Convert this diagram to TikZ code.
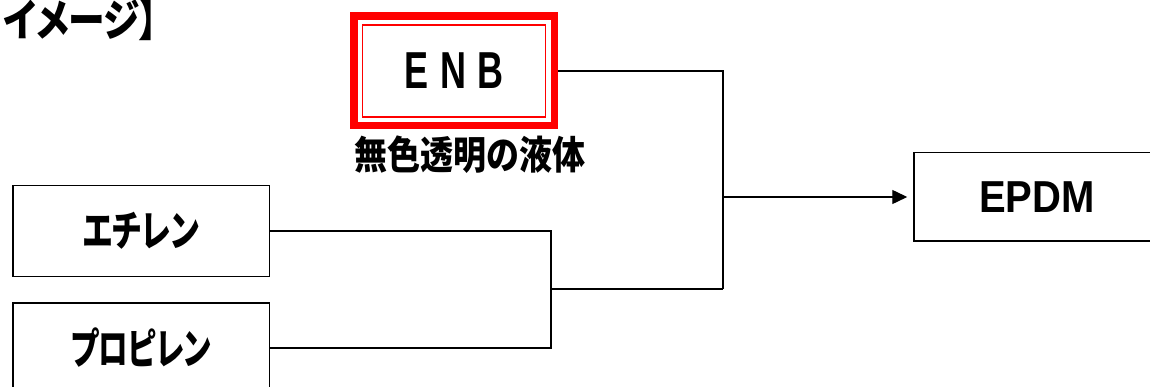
\documentclass[tikz,border=0pt]{standalone}
\usepackage{fontspec}
\setmainfont{Liberation Sans}
\newfontfamily\cjk{Noto Sans CJK JP}[RawFeature=+palt]
\usetikzlibrary{arrows.meta}
\newcommand{\jtext}[3]{\scalebox{#1}[#2]{#3}}
\begin{document}
\begin{tikzpicture}[x=1pt,y=-1pt,
  box/.style={draw=black, line width=1.5pt, fill=white, inner sep=0pt},
  conn/.style={draw=black, line width=1.4pt},
  jp/.style={font=\cjk\bfseries\fontsize{34}{38}\selectfont, inner sep=0pt},
  redbox/.style={draw=red, line width=7.5pt, fill=white, inner sep=0pt}]
\path[use as bounding box, clip] (0,0) rectangle (1150,387);
\fill[white] (0,0) rectangle (1150,387);

\node[jp, anchor=west] (title) at (3,20) {\jtext{1.08}{1.3}{イメージ】}};

\node[redbox, minimum width=200.5pt, minimum height=109.5pt,
      font=\fontsize{40}{44}\selectfont] (enb) at (454,71)
      {\scalebox{0.9}[1.3]{\textbf{E\hspace{0.33em}N\hspace{0.33em}B}}};
\draw[red, line width=1.3pt] ([shift={(12.5,12.5)}]enb.north west) rectangle ([shift={(-12.5,-12.5)}]enb.south east);
\node[jp] (lbl) at (470,155) {\jtext{0.97}{1.15}{無色透明の液体}};

\node[box, minimum width=256.5pt, minimum height=90.5pt, jp] (eth) at (141,231) {\jtext{0.91}{1.25}{エチレン}};
\node[box, minimum width=256.5pt, minimum height=90.5pt, jp] (prop) at (141,348) {\jtext{0.87}{1.25}{プロピレン}};
\node[box, minimum width=270pt, minimum height=88.5pt,
      font=\bfseries\fontsize{40}{44}\selectfont] (epdm) at (1049,197) {};
\node[font=\bfseries\fontsize{40}{44}\selectfont, inner sep=0pt] (epdmtxt) at (1037,197) {\scalebox{1}[1.12]{EPDM}};

\coordinate (j1) at (551,289);
\coordinate (j2) at (723,289);
\coordinate (j3) at (723,197);
\draw[conn] (eth.east) -| (j1);
\draw[conn] (prop.east) -| (j1);
\draw[conn] (j1) -- (j2);
\draw[conn] (enb.east) -| (j2);
\draw[conn, -{Triangle[length=15pt,width=14pt]}, shorten >=6pt] (j3) -- (epdm.west);
\end{tikzpicture}
\end{document}
